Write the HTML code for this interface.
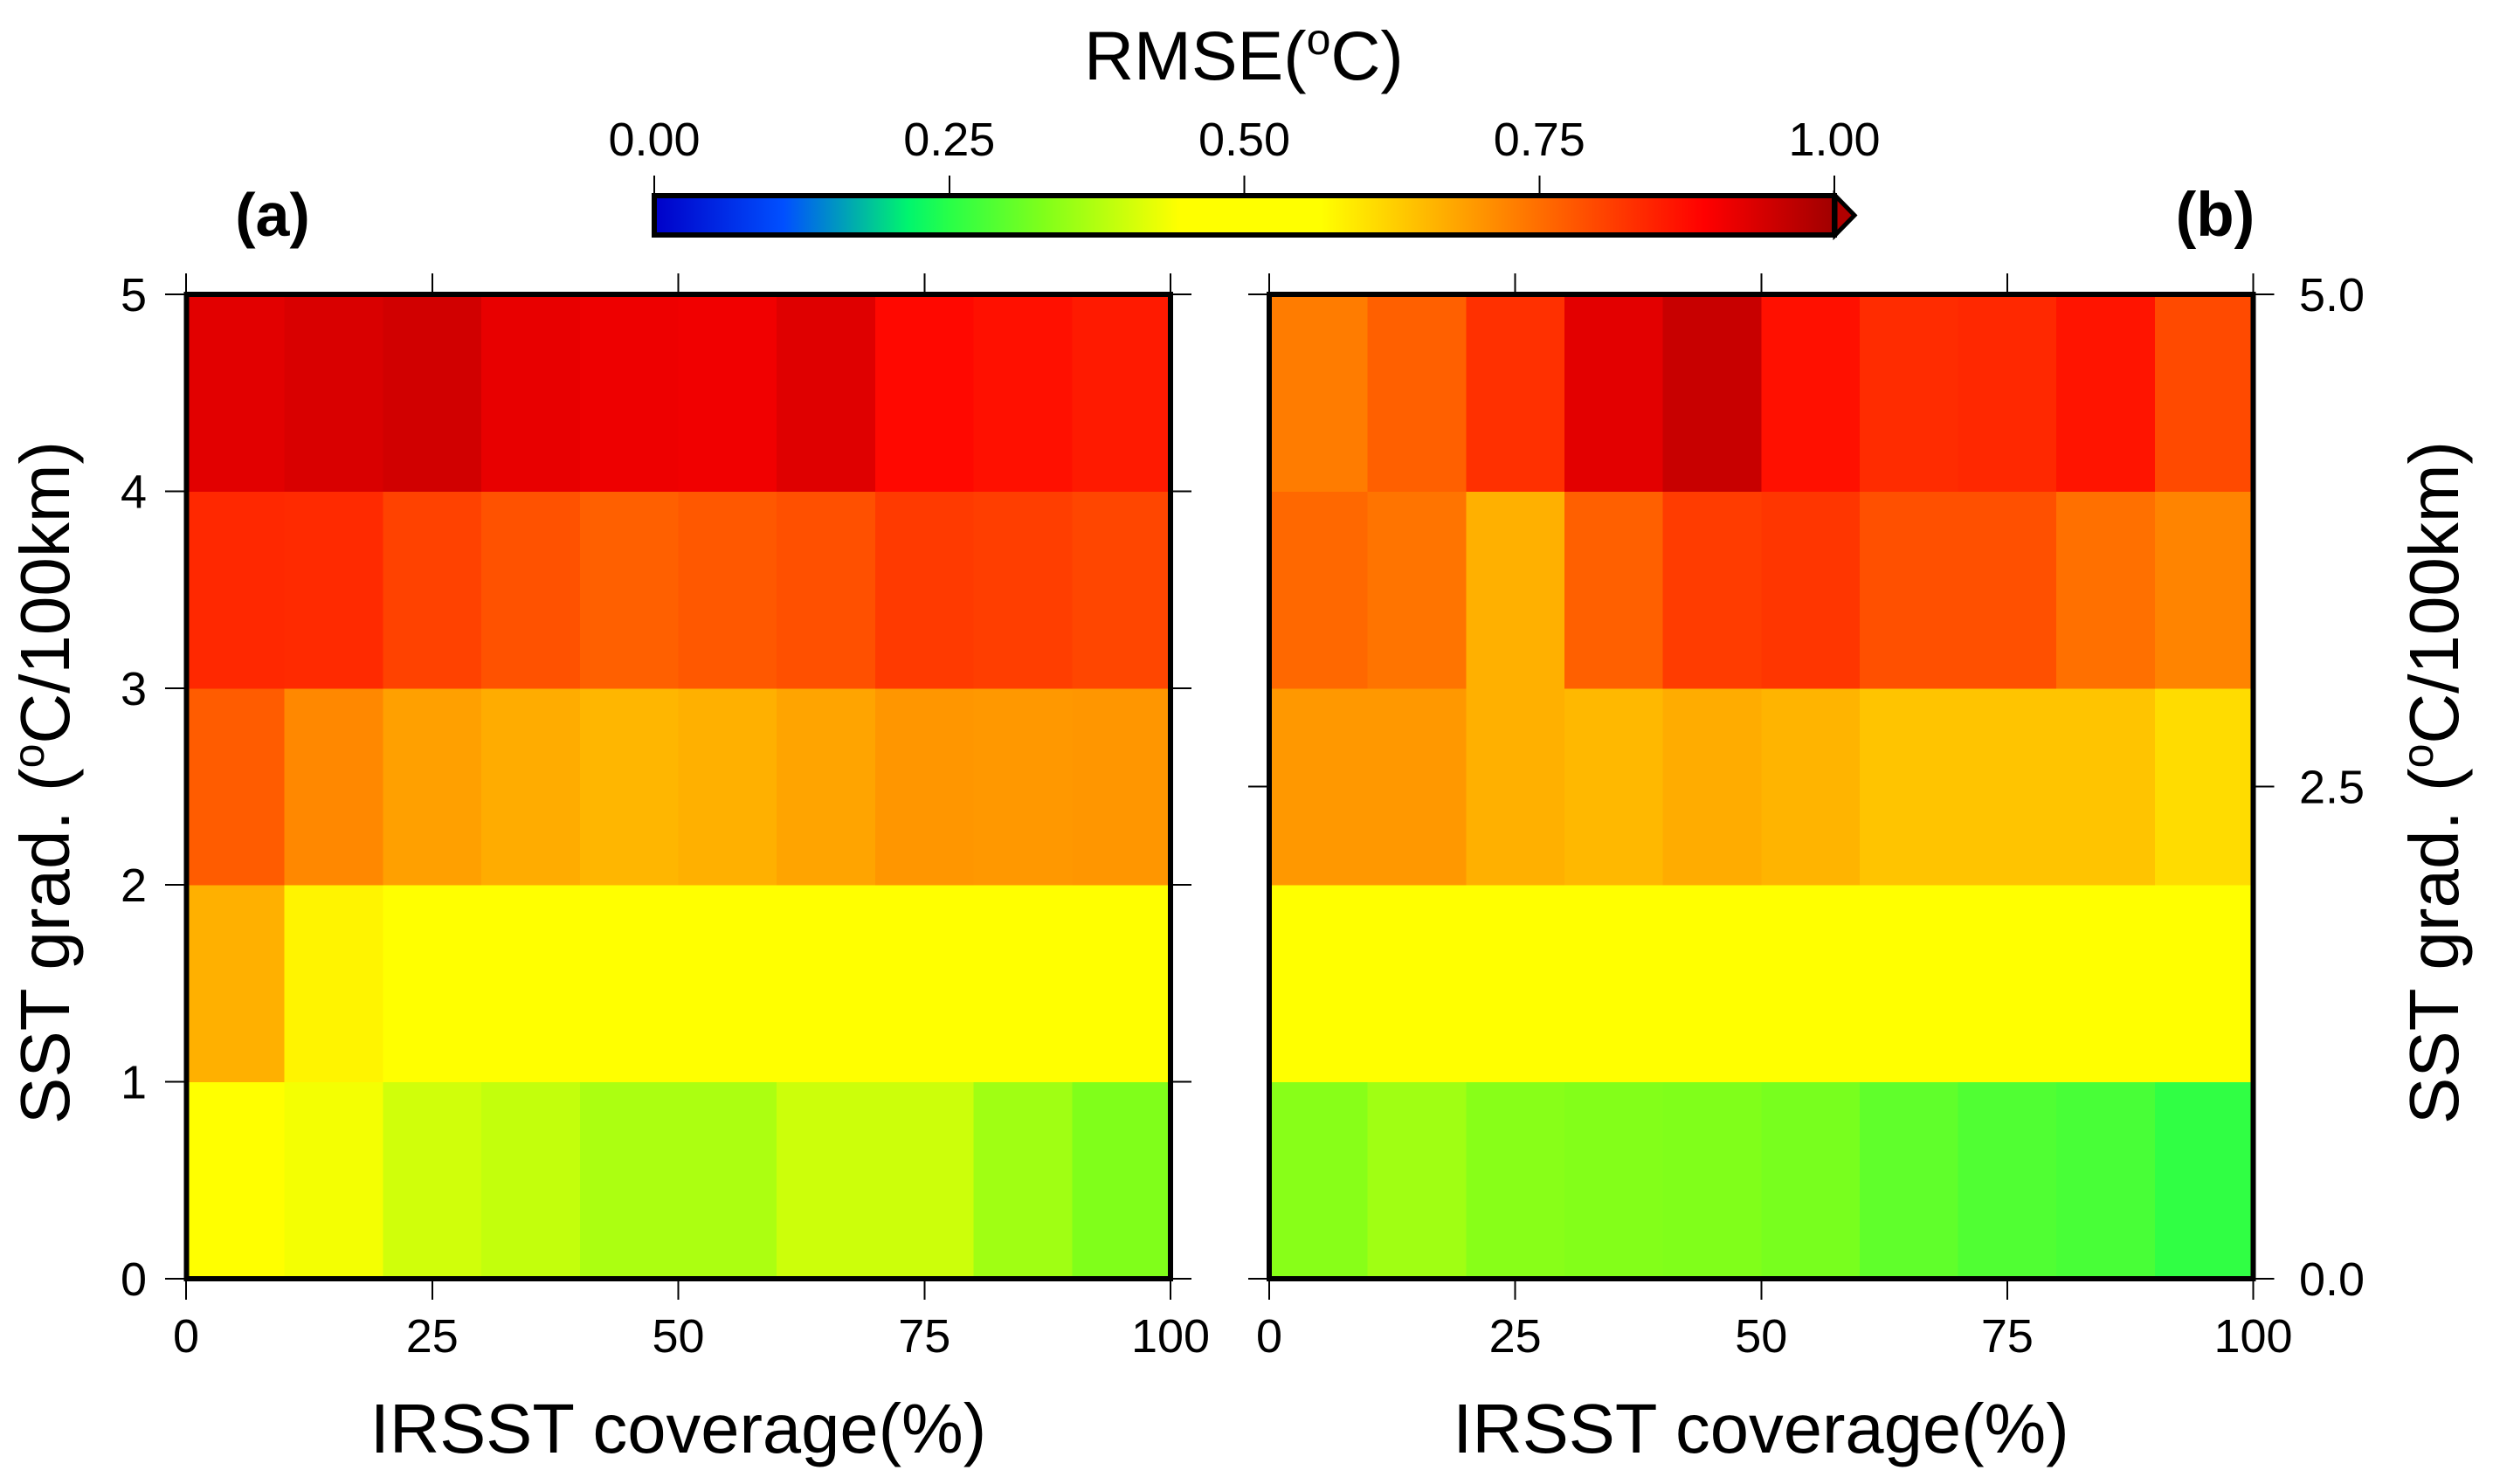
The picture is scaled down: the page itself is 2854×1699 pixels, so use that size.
<!DOCTYPE html>
<html lang="en">
<head>
<meta charset="utf-8">
<title>RMSE heatmaps</title>
<style>
html,body{margin:0;padding:0;background:#fff;}
svg{display:block;}
text{font-family:"Liberation Sans",Arial,sans-serif;fill:#000;}
</style>
</head>
<body>
<svg id="fig" xmlns="http://www.w3.org/2000/svg" width="2854" height="1699" viewBox="0 0 2854 1699">
  <defs>
    <linearGradient id="cbGrad" x1="0" x2="1" y1="0" y2="0"></linearGradient>
  </defs>
  <rect x="0" y="0" width="2854" height="1699" fill="#fff"/>
  <g id="cells-a" shape-rendering="crispEdges"></g>
  <g id="cells-b" shape-rendering="crispEdges"></g>
  <g id="ticks" shape-rendering="crispEdges"></g>
  <rect x="213.5" y="337" width="1126.5" height="1127" fill="none" stroke="#000" stroke-width="5.6" shape-rendering="crispEdges"/>
  <rect x="1453" y="337" width="1126.5" height="1127" fill="none" stroke="#000" stroke-width="5.6" shape-rendering="crispEdges"/>

  <text x="1241" y="91" font-size="79">RMSE(<tspan font-size="50" dy="-29">o</tspan><tspan dy="29">C)</tspan></text>
  <rect x="749" y="224" width="1351" height="45" fill="url(#cbGrad)" stroke="#000" stroke-width="6" shape-rendering="crispEdges"/>
  <polygon points="2101,224 2123,246.5 2101,269" fill="#b00000" stroke="#000" stroke-width="5"/>

  <text x="312" y="270" font-size="70" font-weight="bold" text-anchor="middle">(a)</text>
  <text x="2536" y="270" font-size="71" font-weight="bold" text-anchor="middle">(b)</text>

  <text x="776.5" y="1663" font-size="79.5" text-anchor="middle">IRSST coverage(%)</text>
  <text x="2016" y="1663" font-size="79.5" text-anchor="middle">IRSST coverage(%)</text>
  <text transform="translate(79,1287) rotate(-90)" font-size="80">SST grad. (<tspan font-size="50" dy="-29">o</tspan><tspan dy="29">C/100km)</tspan></text>
  <text transform="translate(2814,1287) rotate(-90)" font-size="80">SST grad. (<tspan font-size="50" dy="-29">o</tspan><tspan dy="29">C/100km)</tspan></text>
</svg>
<script>
// Grid edges of the cells
const coverageEdges = [0,10,20,30,40,50,60,70,80,90,100];
const gradEdges = [0,1,2,3,4,5];

// RMSE values, one row per SST gradient band (bottom band first)
const panelA_0to1 = [0.450,0.435,0.402,0.391,0.370,0.370,0.399,0.399,0.359,0.330];
const panelA_1to2 = [0.666,0.579,0.520,0.520,0.520,0.520,0.520,0.520,0.520,0.520];
const panelA_2to3 = [0.773,0.717,0.686,0.671,0.658,0.666,0.681,0.699,0.696,0.699];
const panelA_3to4 = [0.839,0.836,0.806,0.785,0.768,0.778,0.788,0.816,0.811,0.801];
const panelA_4to5 = [0.924,0.934,0.943,0.917,0.910,0.906,0.927,0.880,0.870,0.857];

const panelB_0to1 = [0.337,0.359,0.337,0.333,0.330,0.323,0.301,0.286,0.279,0.257];
const panelB_1to2 = [0.500,0.500,0.500,0.500,0.500,0.500,0.500,0.500,0.500,0.500];
const panelB_2to3 = [0.696,0.696,0.666,0.655,0.671,0.660,0.640,0.640,0.640,0.609];
const panelB_3to4 = [0.757,0.742,0.666,0.768,0.814,0.821,0.788,0.788,0.747,0.722];
const panelB_4to5 = [0.732,0.768,0.829,0.922,0.954,0.870,0.834,0.839,0.864,0.796];

// Tick labels
const xTickValues = [0,25,50,75,100];
const xTickLabels = ["0","25","50","75","100"];
const yTickValuesA = [0,1,2,3,4,5];
const yTickLabelsA = ["0","1","2","3","4","5"];
const yTickValuesB = [0,2.5,5];
const yTickLabelsB = ["0.0","2.5","5.0"];
const cbTickValues = [0,0.25,0.5,0.75,1];
const cbTickLabels = ["0.00","0.25","0.50","0.75","1.00"];

// Colour table
const cmapValues = [0,0.11,0.215,0.25,0.33,0.445,0.565,0.89,1];
const cmapColors = ["#0000c8","#0050ff","#00f56e","#28ff48","#80ff1a","#ffff00","#ffff00","#ff0000","#a00000"];

const SVGNS = "http://www.w3.org/2000/svg";
const svg = document.getElementById("fig");

const panelTop = 337, panelBottom = 1464;
const panelALeft = 213, panelARight = 1340;
const panelBLeft = 1453, panelBRight = 2579.5;
const cbLeft = 749, cbRight = 2100;

function xA(v){ return panelALeft + (v/100)*(panelARight-panelALeft); }
function xB(v){ return panelBLeft + (v/100)*(panelBRight-panelBLeft); }
function yA(v){ return panelBottom - (v/5)*(panelBottom-panelTop); }
function cbX(v){ return cbLeft + v*(cbRight-cbLeft); }

function hexToRgb(h){
  return [parseInt(h.slice(1,3),16),parseInt(h.slice(3,5),16),parseInt(h.slice(5,7),16)];
}
function colorFor(v){
  const t = Math.max(0,Math.min(1,v));
  for(let i=0;i<cmapValues.length-1;i++){
    if(t<=cmapValues[i+1]){
      const f=(t-cmapValues[i])/(cmapValues[i+1]-cmapValues[i]);
      const a=hexToRgb(cmapColors[i]), b=hexToRgb(cmapColors[i+1]);
      return "rgb("+Math.round(a[0]+(b[0]-a[0])*f)+","+Math.round(a[1]+(b[1]-a[1])*f)+","+Math.round(a[2]+(b[2]-a[2])*f)+")";
    }
  }
  return cmapColors[cmapColors.length-1];
}

// Colour bar gradient
const grad = document.getElementById("cbGrad");
cmapValues.forEach(function(v,i){
  const s = document.createElementNS(SVGNS,"stop");
  s.setAttribute("offset", v);
  s.setAttribute("stop-color", cmapColors[i]);
  grad.appendChild(s);
});

// Heatmap cells
function drawPanel(groupId, rows, xFn, panelName){
  const g = document.getElementById(groupId);
  rows.forEach(function(row,r){
    row.forEach(function(val,c){
      const x0 = xFn(coverageEdges[c]), x1 = xFn(coverageEdges[c+1]);
      const y0 = yA(gradEdges[r+1]), y1 = yA(gradEdges[r]);
      const el = document.createElementNS(SVGNS,"rect");
      
      
      el.setAttribute("x", x0);
      el.setAttribute("y", y0);
      el.setAttribute("width", x1-x0+0.5);
      el.setAttribute("height", y1-y0+0.5);
      el.setAttribute("fill", colorFor(val));
      g.appendChild(el);
    });
  });
}
drawPanel("cells-a",[panelA_0to1,panelA_1to2,panelA_2to3,panelA_3to4,panelA_4to5],xA,"a");
drawPanel("cells-b",[panelB_0to1,panelB_1to2,panelB_2to3,panelB_3to4,panelB_4to5],xB,"b");

// Ticks and labels
const tickGroup = document.getElementById("ticks");
function addTick(x1,y1,x2,y2,name){
  const l = document.createElementNS(SVGNS,"line");
  
  
  l.setAttribute("x1",x1); l.setAttribute("y1",y1);
  l.setAttribute("x2",x2); l.setAttribute("y2",y2);
  l.setAttribute("stroke","#000");
  l.setAttribute("stroke-width","2");
  tickGroup.appendChild(l);
}
function addLabel(x,y,txt,anchor,name){
  const t = document.createElementNS(SVGNS,"text");
  
  
  t.setAttribute("x",x); t.setAttribute("y",y);
  t.setAttribute("font-size","54");
  t.setAttribute("text-anchor",anchor);
  t.textContent = txt;
  svg.appendChild(t);
}

xTickValues.forEach(function(v,i){
  addTick(xA(v),panelTop-24,xA(v),panelTop,"x-top-tick-a-"+v);
  addTick(xA(v),panelBottom,xA(v),panelBottom+24,"x-bottom-tick-a-"+v);
  addLabel(xA(v),1548,xTickLabels[i],"middle","x-tick-label-a-"+v);
  addTick(xB(v),panelTop-24,xB(v),panelTop,"x-top-tick-b-"+v);
  addTick(xB(v),panelBottom,xB(v),panelBottom+24,"x-bottom-tick-b-"+v);
  addLabel(xB(v),1548,xTickLabels[i],"middle","x-tick-label-b-"+v);
});

yTickValuesA.forEach(function(v,i){
  addTick(panelALeft-24,yA(v),panelALeft,yA(v),"y-left-tick-a-"+v);
  addTick(panelARight,yA(v),panelARight+24,yA(v),"y-right-tick-a-"+v);
  addLabel(168,yA(v)+19,yTickLabelsA[i],"end","y-tick-label-a-"+v);
});

yTickValuesB.forEach(function(v,i){
  addTick(panelBLeft-24,yA(v),panelBLeft,yA(v),"y-left-tick-b-"+v);
  addTick(panelBRight,yA(v),panelBRight+24,yA(v),"y-right-tick-b-"+v);
  addLabel(2632,yA(v)+19,yTickLabelsB[i],"start","y-tick-label-b-"+v);
});

cbTickValues.forEach(function(v,i){
  addTick(cbX(v),201,cbX(v),222,"colorbar-tick-"+v);
  addLabel(cbX(v),178,cbTickLabels[i],"middle","colorbar-label-"+v);
});
</script>
</body>
</html>
